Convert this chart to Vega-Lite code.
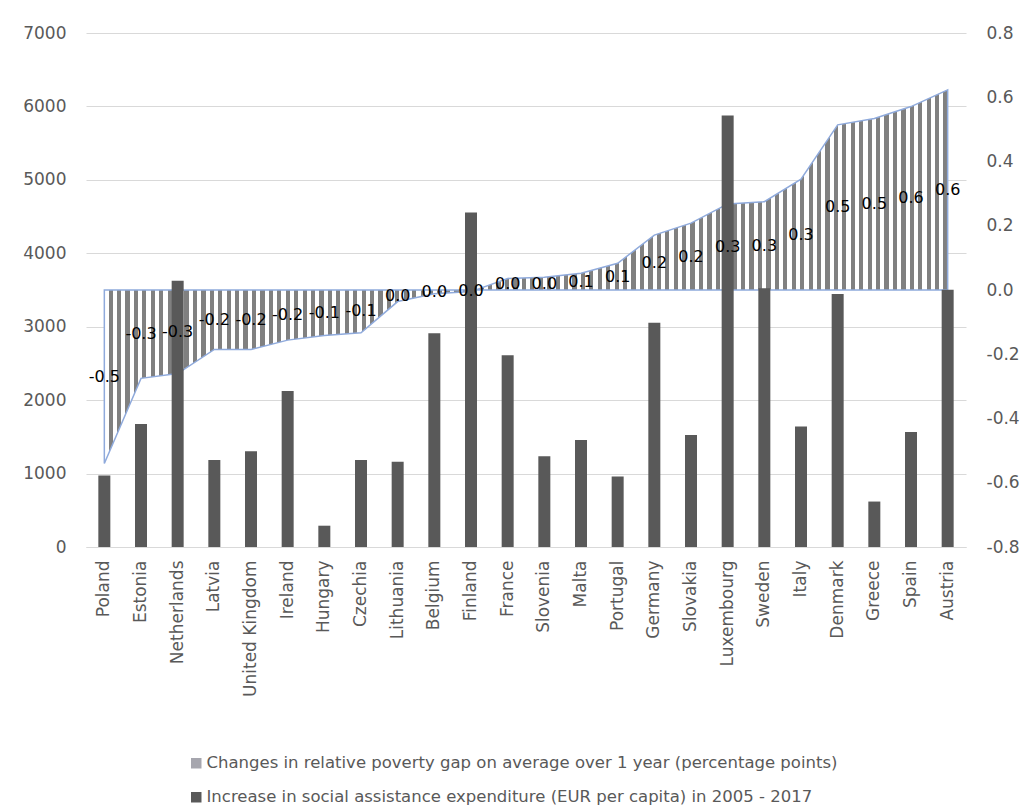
{
  "$schema": "https://vega.github.io/schema/vega-lite/v6.json",
  "width": 880,
  "height": 514,
  "autosize": {"type": "none"},
  "padding": {"left": 86, "top": 33, "right": 70, "bottom": 262},
  "background": "white",
  "config": {
    "view": {"stroke": null},
    "font": "DejaVu Sans",
    "axis": {"labelFont": "DejaVu Sans", "labelFontSize": 17, "labelColor": "#595959", "ticks": false, "domain": false, "title": null, "gridColor": "#d9d9d9", "gridWidth": 1}
  },
  "data": {"values": [
    {"country": "Poland", "exp": 975, "gap": -0.54, "label": "-0.5"},
    {"country": "Estonia", "exp": 1675, "gap": -0.275, "label": "-0.3"},
    {"country": "Netherlands", "exp": 3625, "gap": -0.26, "label": "-0.3"},
    {"country": "Latvia", "exp": 1185, "gap": -0.185, "label": "-0.2"},
    {"country": "United Kingdom", "exp": 1305, "gap": -0.185, "label": "-0.2"},
    {"country": "Ireland", "exp": 2125, "gap": -0.156, "label": "-0.2"},
    {"country": "Hungary", "exp": 290, "gap": -0.142, "label": "-0.1"},
    {"country": "Czechia", "exp": 1185, "gap": -0.133, "label": "-0.1"},
    {"country": "Lithuania", "exp": 1160, "gap": -0.036, "label": "0.0"},
    {"country": "Belgium", "exp": 2910, "gap": -0.012, "label": "0.0"},
    {"country": "Finland", "exp": 4555, "gap": -0.005, "label": "0.0"},
    {"country": "France", "exp": 2610, "gap": 0.036, "label": "0.0"},
    {"country": "Slovenia", "exp": 1237, "gap": 0.04, "label": "0.0"},
    {"country": "Malta", "exp": 1456, "gap": 0.052, "label": "0.1"},
    {"country": "Portugal", "exp": 960, "gap": 0.083, "label": "0.1"},
    {"country": "Germany", "exp": 3055, "gap": 0.171, "label": "0.2"},
    {"country": "Slovakia", "exp": 1524, "gap": 0.208, "label": "0.2"},
    {"country": "Luxembourg", "exp": 5876, "gap": 0.268, "label": "0.3"},
    {"country": "Sweden", "exp": 3525, "gap": 0.275, "label": "0.3"},
    {"country": "Italy", "exp": 1642, "gap": 0.345, "label": "0.3"},
    {"country": "Denmark", "exp": 3447, "gap": 0.514, "label": "0.5"},
    {"country": "Greece", "exp": 619, "gap": 0.534, "label": "0.5"},
    {"country": "Spain", "exp": 1565, "gap": 0.571, "label": "0.6"},
    {"country": "Austria", "exp": 3502, "gap": 0.623, "label": "0.6"}
  ]},
  "encoding": {
    "x": {"field": "country", "type": "nominal", "sort": null,
      "scale": {"paddingInner": 0, "paddingOuter": 0},
      "axis": {"labelAngle": -90, "labelPadding": 13, "domain": true, "domainColor": "#d9d9d9", "grid": false}}
  },
  "layer": [
    {
      "mark": {"type": "area", "opacity": 1, "stroke": "#8faadc", "strokeWidth": 1.5,
        "fill": {"gradient": "linear", "x1": 0, "y1": 0, "x2": 1, "y2": 0, "stops": [
{"offset":0,"color":"#fff"},
{"offset":0.005,"color":"#fff"},{"offset":0.005,"color":"#808080"},{"offset":0.01,"color":"#808080"},{"offset":0.01,"color":"#fff"},
{"offset":0.015,"color":"#fff"},{"offset":0.015,"color":"#808080"},{"offset":0.02,"color":"#808080"},{"offset":0.02,"color":"#fff"},
{"offset":0.025,"color":"#fff"},{"offset":0.025,"color":"#808080"},{"offset":0.03,"color":"#808080"},{"offset":0.03,"color":"#fff"},
{"offset":0.035,"color":"#fff"},{"offset":0.035,"color":"#808080"},{"offset":0.04,"color":"#808080"},{"offset":0.04,"color":"#fff"},
{"offset":0.045,"color":"#fff"},{"offset":0.045,"color":"#808080"},{"offset":0.05,"color":"#808080"},{"offset":0.05,"color":"#fff"},
{"offset":0.055,"color":"#fff"},{"offset":0.055,"color":"#808080"},{"offset":0.06,"color":"#808080"},{"offset":0.06,"color":"#fff"},
{"offset":0.065,"color":"#fff"},{"offset":0.065,"color":"#808080"},{"offset":0.07,"color":"#808080"},{"offset":0.07,"color":"#fff"},
{"offset":0.075,"color":"#fff"},{"offset":0.075,"color":"#808080"},{"offset":0.08,"color":"#808080"},{"offset":0.08,"color":"#fff"},
{"offset":0.085,"color":"#fff"},{"offset":0.085,"color":"#808080"},{"offset":0.09,"color":"#808080"},{"offset":0.09,"color":"#fff"},
{"offset":0.095,"color":"#fff"},{"offset":0.095,"color":"#808080"},{"offset":0.1,"color":"#808080"},{"offset":0.1,"color":"#fff"},
{"offset":0.105,"color":"#fff"},{"offset":0.105,"color":"#808080"},{"offset":0.11,"color":"#808080"},{"offset":0.11,"color":"#fff"},
{"offset":0.115,"color":"#fff"},{"offset":0.115,"color":"#808080"},{"offset":0.12,"color":"#808080"},{"offset":0.12,"color":"#fff"},
{"offset":0.125,"color":"#fff"},{"offset":0.125,"color":"#808080"},{"offset":0.13,"color":"#808080"},{"offset":0.13,"color":"#fff"},
{"offset":0.135,"color":"#fff"},{"offset":0.135,"color":"#808080"},{"offset":0.14,"color":"#808080"},{"offset":0.14,"color":"#fff"},
{"offset":0.145,"color":"#fff"},{"offset":0.145,"color":"#808080"},{"offset":0.15,"color":"#808080"},{"offset":0.15,"color":"#fff"},
{"offset":0.155,"color":"#fff"},{"offset":0.155,"color":"#808080"},{"offset":0.16,"color":"#808080"},{"offset":0.16,"color":"#fff"},
{"offset":0.165,"color":"#fff"},{"offset":0.165,"color":"#808080"},{"offset":0.17,"color":"#808080"},{"offset":0.17,"color":"#fff"},
{"offset":0.175,"color":"#fff"},{"offset":0.175,"color":"#808080"},{"offset":0.18,"color":"#808080"},{"offset":0.18,"color":"#fff"},
{"offset":0.185,"color":"#fff"},{"offset":0.185,"color":"#808080"},{"offset":0.19,"color":"#808080"},{"offset":0.19,"color":"#fff"},
{"offset":0.195,"color":"#fff"},{"offset":0.195,"color":"#808080"},{"offset":0.2,"color":"#808080"},{"offset":0.2,"color":"#fff"},
{"offset":0.205,"color":"#fff"},{"offset":0.205,"color":"#808080"},{"offset":0.21,"color":"#808080"},{"offset":0.21,"color":"#fff"},
{"offset":0.215,"color":"#fff"},{"offset":0.215,"color":"#808080"},{"offset":0.22,"color":"#808080"},{"offset":0.22,"color":"#fff"},
{"offset":0.225,"color":"#fff"},{"offset":0.225,"color":"#808080"},{"offset":0.23,"color":"#808080"},{"offset":0.23,"color":"#fff"},
{"offset":0.235,"color":"#fff"},{"offset":0.235,"color":"#808080"},{"offset":0.24,"color":"#808080"},{"offset":0.24,"color":"#fff"},
{"offset":0.245,"color":"#fff"},{"offset":0.245,"color":"#808080"},{"offset":0.25,"color":"#808080"},{"offset":0.25,"color":"#fff"},
{"offset":0.255,"color":"#fff"},{"offset":0.255,"color":"#808080"},{"offset":0.26,"color":"#808080"},{"offset":0.26,"color":"#fff"},
{"offset":0.265,"color":"#fff"},{"offset":0.265,"color":"#808080"},{"offset":0.27,"color":"#808080"},{"offset":0.27,"color":"#fff"},
{"offset":0.275,"color":"#fff"},{"offset":0.275,"color":"#808080"},{"offset":0.28,"color":"#808080"},{"offset":0.28,"color":"#fff"},
{"offset":0.285,"color":"#fff"},{"offset":0.285,"color":"#808080"},{"offset":0.29,"color":"#808080"},{"offset":0.29,"color":"#fff"},
{"offset":0.295,"color":"#fff"},{"offset":0.295,"color":"#808080"},{"offset":0.3,"color":"#808080"},{"offset":0.3,"color":"#fff"},
{"offset":0.305,"color":"#fff"},{"offset":0.305,"color":"#808080"},{"offset":0.31,"color":"#808080"},{"offset":0.31,"color":"#fff"},
{"offset":0.315,"color":"#fff"},{"offset":0.315,"color":"#808080"},{"offset":0.32,"color":"#808080"},{"offset":0.32,"color":"#fff"},
{"offset":0.325,"color":"#fff"},{"offset":0.325,"color":"#808080"},{"offset":0.33,"color":"#808080"},{"offset":0.33,"color":"#fff"},
{"offset":0.335,"color":"#fff"},{"offset":0.335,"color":"#808080"},{"offset":0.34,"color":"#808080"},{"offset":0.34,"color":"#fff"},
{"offset":0.345,"color":"#fff"},{"offset":0.345,"color":"#808080"},{"offset":0.35,"color":"#808080"},{"offset":0.35,"color":"#fff"},
{"offset":0.355,"color":"#fff"},{"offset":0.355,"color":"#808080"},{"offset":0.36,"color":"#808080"},{"offset":0.36,"color":"#fff"},
{"offset":0.365,"color":"#fff"},{"offset":0.365,"color":"#808080"},{"offset":0.37,"color":"#808080"},{"offset":0.37,"color":"#fff"},
{"offset":0.375,"color":"#fff"},{"offset":0.375,"color":"#808080"},{"offset":0.38,"color":"#808080"},{"offset":0.38,"color":"#fff"},
{"offset":0.385,"color":"#fff"},{"offset":0.385,"color":"#808080"},{"offset":0.39,"color":"#808080"},{"offset":0.39,"color":"#fff"},
{"offset":0.395,"color":"#fff"},{"offset":0.395,"color":"#808080"},{"offset":0.4,"color":"#808080"},{"offset":0.4,"color":"#fff"},
{"offset":0.405,"color":"#fff"},{"offset":0.405,"color":"#808080"},{"offset":0.41,"color":"#808080"},{"offset":0.41,"color":"#fff"},
{"offset":0.415,"color":"#fff"},{"offset":0.415,"color":"#808080"},{"offset":0.42,"color":"#808080"},{"offset":0.42,"color":"#fff"},
{"offset":0.425,"color":"#fff"},{"offset":0.425,"color":"#808080"},{"offset":0.43,"color":"#808080"},{"offset":0.43,"color":"#fff"},
{"offset":0.435,"color":"#fff"},{"offset":0.435,"color":"#808080"},{"offset":0.44,"color":"#808080"},{"offset":0.44,"color":"#fff"},
{"offset":0.445,"color":"#fff"},{"offset":0.445,"color":"#808080"},{"offset":0.45,"color":"#808080"},{"offset":0.45,"color":"#fff"},
{"offset":0.455,"color":"#fff"},{"offset":0.455,"color":"#808080"},{"offset":0.46,"color":"#808080"},{"offset":0.46,"color":"#fff"},
{"offset":0.465,"color":"#fff"},{"offset":0.465,"color":"#808080"},{"offset":0.47,"color":"#808080"},{"offset":0.47,"color":"#fff"},
{"offset":0.475,"color":"#fff"},{"offset":0.475,"color":"#808080"},{"offset":0.48,"color":"#808080"},{"offset":0.48,"color":"#fff"},
{"offset":0.485,"color":"#fff"},{"offset":0.485,"color":"#808080"},{"offset":0.49,"color":"#808080"},{"offset":0.49,"color":"#fff"},
{"offset":0.495,"color":"#fff"},{"offset":0.495,"color":"#808080"},{"offset":0.5,"color":"#808080"},{"offset":0.5,"color":"#fff"},
{"offset":0.505,"color":"#fff"},{"offset":0.505,"color":"#808080"},{"offset":0.51,"color":"#808080"},{"offset":0.51,"color":"#fff"},
{"offset":0.515,"color":"#fff"},{"offset":0.515,"color":"#808080"},{"offset":0.52,"color":"#808080"},{"offset":0.52,"color":"#fff"},
{"offset":0.525,"color":"#fff"},{"offset":0.525,"color":"#808080"},{"offset":0.53,"color":"#808080"},{"offset":0.53,"color":"#fff"},
{"offset":0.535,"color":"#fff"},{"offset":0.535,"color":"#808080"},{"offset":0.54,"color":"#808080"},{"offset":0.54,"color":"#fff"},
{"offset":0.545,"color":"#fff"},{"offset":0.545,"color":"#808080"},{"offset":0.55,"color":"#808080"},{"offset":0.55,"color":"#fff"},
{"offset":0.555,"color":"#fff"},{"offset":0.555,"color":"#808080"},{"offset":0.56,"color":"#808080"},{"offset":0.56,"color":"#fff"},
{"offset":0.565,"color":"#fff"},{"offset":0.565,"color":"#808080"},{"offset":0.57,"color":"#808080"},{"offset":0.57,"color":"#fff"},
{"offset":0.575,"color":"#fff"},{"offset":0.575,"color":"#808080"},{"offset":0.58,"color":"#808080"},{"offset":0.58,"color":"#fff"},
{"offset":0.585,"color":"#fff"},{"offset":0.585,"color":"#808080"},{"offset":0.59,"color":"#808080"},{"offset":0.59,"color":"#fff"},
{"offset":0.595,"color":"#fff"},{"offset":0.595,"color":"#808080"},{"offset":0.6,"color":"#808080"},{"offset":0.6,"color":"#fff"},
{"offset":0.605,"color":"#fff"},{"offset":0.605,"color":"#808080"},{"offset":0.61,"color":"#808080"},{"offset":0.61,"color":"#fff"},
{"offset":0.615,"color":"#fff"},{"offset":0.615,"color":"#808080"},{"offset":0.62,"color":"#808080"},{"offset":0.62,"color":"#fff"},
{"offset":0.625,"color":"#fff"},{"offset":0.625,"color":"#808080"},{"offset":0.63,"color":"#808080"},{"offset":0.63,"color":"#fff"},
{"offset":0.635,"color":"#fff"},{"offset":0.635,"color":"#808080"},{"offset":0.64,"color":"#808080"},{"offset":0.64,"color":"#fff"},
{"offset":0.645,"color":"#fff"},{"offset":0.645,"color":"#808080"},{"offset":0.65,"color":"#808080"},{"offset":0.65,"color":"#fff"},
{"offset":0.655,"color":"#fff"},{"offset":0.655,"color":"#808080"},{"offset":0.66,"color":"#808080"},{"offset":0.66,"color":"#fff"},
{"offset":0.665,"color":"#fff"},{"offset":0.665,"color":"#808080"},{"offset":0.67,"color":"#808080"},{"offset":0.67,"color":"#fff"},
{"offset":0.675,"color":"#fff"},{"offset":0.675,"color":"#808080"},{"offset":0.68,"color":"#808080"},{"offset":0.68,"color":"#fff"},
{"offset":0.685,"color":"#fff"},{"offset":0.685,"color":"#808080"},{"offset":0.69,"color":"#808080"},{"offset":0.69,"color":"#fff"},
{"offset":0.695,"color":"#fff"},{"offset":0.695,"color":"#808080"},{"offset":0.7,"color":"#808080"},{"offset":0.7,"color":"#fff"},
{"offset":0.705,"color":"#fff"},{"offset":0.705,"color":"#808080"},{"offset":0.71,"color":"#808080"},{"offset":0.71,"color":"#fff"},
{"offset":0.715,"color":"#fff"},{"offset":0.715,"color":"#808080"},{"offset":0.72,"color":"#808080"},{"offset":0.72,"color":"#fff"},
{"offset":0.725,"color":"#fff"},{"offset":0.725,"color":"#808080"},{"offset":0.73,"color":"#808080"},{"offset":0.73,"color":"#fff"},
{"offset":0.735,"color":"#fff"},{"offset":0.735,"color":"#808080"},{"offset":0.74,"color":"#808080"},{"offset":0.74,"color":"#fff"},
{"offset":0.745,"color":"#fff"},{"offset":0.745,"color":"#808080"},{"offset":0.75,"color":"#808080"},{"offset":0.75,"color":"#fff"},
{"offset":0.755,"color":"#fff"},{"offset":0.755,"color":"#808080"},{"offset":0.76,"color":"#808080"},{"offset":0.76,"color":"#fff"},
{"offset":0.765,"color":"#fff"},{"offset":0.765,"color":"#808080"},{"offset":0.77,"color":"#808080"},{"offset":0.77,"color":"#fff"},
{"offset":0.775,"color":"#fff"},{"offset":0.775,"color":"#808080"},{"offset":0.78,"color":"#808080"},{"offset":0.78,"color":"#fff"},
{"offset":0.785,"color":"#fff"},{"offset":0.785,"color":"#808080"},{"offset":0.79,"color":"#808080"},{"offset":0.79,"color":"#fff"},
{"offset":0.795,"color":"#fff"},{"offset":0.795,"color":"#808080"},{"offset":0.8,"color":"#808080"},{"offset":0.8,"color":"#fff"},
{"offset":0.805,"color":"#fff"},{"offset":0.805,"color":"#808080"},{"offset":0.81,"color":"#808080"},{"offset":0.81,"color":"#fff"},
{"offset":0.815,"color":"#fff"},{"offset":0.815,"color":"#808080"},{"offset":0.82,"color":"#808080"},{"offset":0.82,"color":"#fff"},
{"offset":0.825,"color":"#fff"},{"offset":0.825,"color":"#808080"},{"offset":0.83,"color":"#808080"},{"offset":0.83,"color":"#fff"},
{"offset":0.835,"color":"#fff"},{"offset":0.835,"color":"#808080"},{"offset":0.84,"color":"#808080"},{"offset":0.84,"color":"#fff"},
{"offset":0.845,"color":"#fff"},{"offset":0.845,"color":"#808080"},{"offset":0.85,"color":"#808080"},{"offset":0.85,"color":"#fff"},
{"offset":0.855,"color":"#fff"},{"offset":0.855,"color":"#808080"},{"offset":0.86,"color":"#808080"},{"offset":0.86,"color":"#fff"},
{"offset":0.865,"color":"#fff"},{"offset":0.865,"color":"#808080"},{"offset":0.87,"color":"#808080"},{"offset":0.87,"color":"#fff"},
{"offset":0.875,"color":"#fff"},{"offset":0.875,"color":"#808080"},{"offset":0.88,"color":"#808080"},{"offset":0.88,"color":"#fff"},
{"offset":0.885,"color":"#fff"},{"offset":0.885,"color":"#808080"},{"offset":0.89,"color":"#808080"},{"offset":0.89,"color":"#fff"},
{"offset":0.895,"color":"#fff"},{"offset":0.895,"color":"#808080"},{"offset":0.9,"color":"#808080"},{"offset":0.9,"color":"#fff"},
{"offset":0.905,"color":"#fff"},{"offset":0.905,"color":"#808080"},{"offset":0.91,"color":"#808080"},{"offset":0.91,"color":"#fff"},
{"offset":0.915,"color":"#fff"},{"offset":0.915,"color":"#808080"},{"offset":0.92,"color":"#808080"},{"offset":0.92,"color":"#fff"},
{"offset":0.925,"color":"#fff"},{"offset":0.925,"color":"#808080"},{"offset":0.93,"color":"#808080"},{"offset":0.93,"color":"#fff"},
{"offset":0.935,"color":"#fff"},{"offset":0.935,"color":"#808080"},{"offset":0.94,"color":"#808080"},{"offset":0.94,"color":"#fff"},
{"offset":0.945,"color":"#fff"},{"offset":0.945,"color":"#808080"},{"offset":0.95,"color":"#808080"},{"offset":0.95,"color":"#fff"},
{"offset":0.955,"color":"#fff"},{"offset":0.955,"color":"#808080"},{"offset":0.96,"color":"#808080"},{"offset":0.96,"color":"#fff"},
{"offset":0.965,"color":"#fff"},{"offset":0.965,"color":"#808080"},{"offset":0.97,"color":"#808080"},{"offset":0.97,"color":"#fff"},
{"offset":0.975,"color":"#fff"},{"offset":0.975,"color":"#808080"},{"offset":0.98,"color":"#808080"},{"offset":0.98,"color":"#fff"},
{"offset":0.985,"color":"#fff"},{"offset":0.985,"color":"#808080"},{"offset":0.99,"color":"#808080"},{"offset":0.99,"color":"#fff"},
{"offset":0.995,"color":"#fff"},{"offset":0.995,"color":"#808080"},{"offset":1,"color":"#808080"}
        ]}},
      "encoding": {
        "y": {"field": "gap", "type": "quantitative",
          "scale": {"domain": [-0.8, 0.8], "nice": false},
          "axis": {"orient": "right", "values": [-0.8, -0.6, -0.4, -0.2, 0, 0.2, 0.4, 0.6, 0.8],
            "labelExpr": "replace(format(datum.value, '.1f'), '\u2212', '-')", "grid": false, "labelPadding": 20}}
      }
    },
    {
      "mark": {"type": "bar", "width": 12, "color": "#595959"},
      "encoding": {
        "y": {"field": "exp", "type": "quantitative",
          "scale": {"domain": [0, 7000], "nice": false},
          "axis": {"orient": "left", "values": [0, 1000, 2000, 3000, 4000, 5000, 6000, 7000], "format": "d", "grid": true, "labelPadding": 20}},
        "color": {"datum": "Increase in social assistance expenditure (EUR per capita) in 2005 - 2017", "type": "nominal",
          "scale": {"domain": ["Changes in relative poverty gap on average over 1 year (percentage points)", "Increase in social assistance expenditure (EUR per capita) in 2005 - 2017"], "range": ["#a6a6ae", "#595959"]},
          "legend": {"orient": "none", "legendX": 102, "legendY": 722, "direction": "vertical", "title": null,
            "labelFont": "DejaVu Sans", "labelFontSize": 16.5, "labelColor": "#595959", "labelLimit": 1000,
            "symbolType": "square", "symbolSize": 110, "symbolStrokeWidth": 0, "symbolOpacity": 1, "rowPadding": 17, "labelOffset": 2}
        }
      }
    },
    {
      "mark": {"type": "text", "fontSize": 16, "font": "DejaVu Sans", "fill": "black", "align": "center", "baseline": "middle"},
      "encoding": {
        "y": {"field": "gap", "type": "quantitative", "scale": {"domain": [-1.6, 1.6], "nice": false}, "axis": null},
        "text": {"field": "label"}
      }
    }
  ],
  "resolve": {"scale": {"y": "independent"}}
}
